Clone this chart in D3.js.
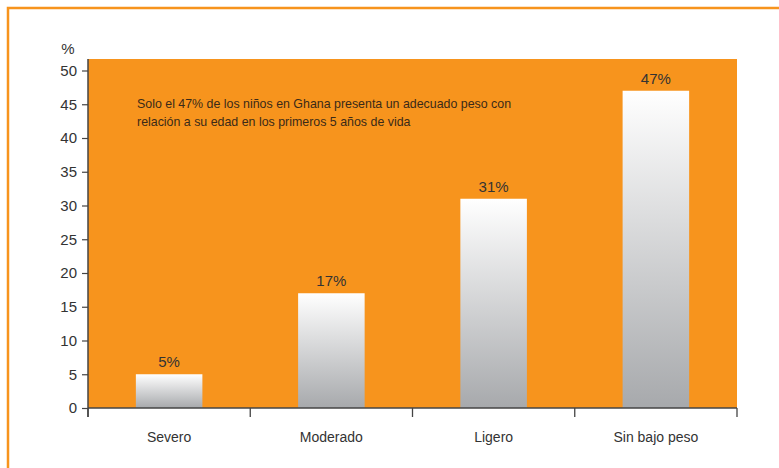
<!DOCTYPE html>
<html>
<head>
<meta charset="utf-8">
<script src="https://cdn.jsdelivr.net/npm/d3@7"></script>
<style>
  html, body { margin: 0; padding: 0; background: #fff; }
  svg { display: block; }
  text { font-family: "Liberation Sans", Arial, sans-serif; }
</style>
</head>
<body>
<svg id="chart" width="779" height="468"></svg>
<script>
// Peso para la edad en menores de 5 años (Ghana)
const categories = ["Severo", "Moderado", "Ligero", "Sin bajo peso"];
const values = [5, 17, 31, 47];
const yTicks = [0, 5, 10, 15, 20, 25, 30, 35, 40, 45, 50];
const note = [
  "Solo el 47% de los niños en Ghana presenta un adecuado peso con",
  "relación a su edad en los primeros 5 años de vida"
];

const svg = d3.select("#chart");
const W = 779, H = 468;
const m = { left: 88, right: 42, top: 59, bottom: 60 };
const plotTop = 59, plotBottom = 408;

const orange = "#F7941D";
const ink = "#333333";
const axisInk = "#444444";

// Outer frame, open to the right and bottom
svg.append("rect")
  .attr("x", 8).attr("y", 8)
  .attr("width", W + 20).attr("height", H + 20)
  .attr("fill", "none")
  .attr("stroke", orange)
  .attr("stroke-width", 2.5);

const x = d3.scaleBand()
  .domain(categories)
  .range([m.left, W - m.right])
  .paddingInner(0.59)
  .paddingOuter(0.295);

const y = d3.scaleLinear()
  .domain([0, 50])
  .range([plotBottom, 70.5]);

// Plot background
svg.append("rect")
  .attr("x", m.left).attr("y", plotTop)
  .attr("width", (W - m.right) - m.left)
  .attr("height", plotBottom - plotTop)
  .attr("fill", orange);

// Bar gradient
const defs = svg.append("defs");
const grad = defs.append("linearGradient")
  .attr("id", "barGrad")
  .attr("x1", 0).attr("y1", 0).attr("x2", 0).attr("y2", 1);
grad.append("stop").attr("offset", "0%").attr("stop-color", "#ffffff");
grad.append("stop").attr("offset", "100%").attr("stop-color", "#a7a9ac");

svg.append("g")
  .selectAll("rect")
  .data(categories)
  .join("rect")
  .attr("x", d => x(d))
  .attr("y", (d, i) => y(values[i]))
  .attr("width", x.bandwidth())
  .attr("height", (d, i) => y(0) - y(values[i]))
  .attr("fill", "url(#barGrad)");

// Value labels
svg.append("g")
  .selectAll("text")
  .data(categories)
  .join("text")
  .attr("x", d => x(d) + x.bandwidth() / 2)
  .attr("y", (d, i) => y(values[i]) - 7)
  .attr("text-anchor", "middle")
  .attr("font-size", 15)
  .attr("fill", ink)
  .text((d, i) => values[i] + "%");

// Annotation
svg.append("text")
  .attr("x", 137).attr("y", 108)
  .attr("font-size", 12.4)
  .attr("fill", "#3a2a18")
  .selectAll("tspan")
  .data(note)
  .join("tspan")
  .attr("x", 137)
  .attr("dy", (d, i) => i === 0 ? 0 : 18)
  .text(d => d);

// Y axis
const yAxis = svg.append("g")
  .attr("transform", `translate(${m.left},0)`)
  .call(d3.axisLeft(y).tickValues(yTicks).tickSize(6).tickPadding(5));
yAxis.select(".domain").remove();
yAxis.selectAll(".tick line").attr("stroke", axisInk).attr("stroke-width", 1.2);
yAxis.selectAll(".tick text")
  .attr("font-size", 15)
  .attr("fill", ink)
  .attr("font-family", "Liberation Sans, Arial, sans-serif");

svg.append("line")
  .attr("x1", m.left).attr("x2", m.left)
  .attr("y1", plotTop).attr("y2", plotBottom + 9)
  .attr("stroke", axisInk).attr("stroke-width", 1.5);

svg.append("text")
  .attr("x", 68).attr("y", 54)
  .attr("text-anchor", "middle")
  .attr("font-size", 15)
  .attr("fill", ink)
  .text("%");

// X axis: baseline, boundary ticks and category labels
svg.append("line")
  .attr("x1", m.left).attr("x2", W - m.right)
  .attr("y1", plotBottom).attr("y2", plotBottom)
  .attr("stroke", axisInk).attr("stroke-width", 1.5);

const step = x.step();
const bounds = categories.map(d => x(d) - (step - x.bandwidth()) / 2)
  .concat([x(categories[categories.length - 1]) + x.bandwidth() + (step - x.bandwidth()) / 2]);

svg.append("g")
  .selectAll("line")
  .data(bounds)
  .join("line")
  .attr("x1", d => d).attr("x2", d => d)
  .attr("y1", plotBottom).attr("y2", plotBottom + 9)
  .attr("stroke", axisInk).attr("stroke-width", 1.3);

svg.append("g")
  .selectAll("text")
  .data(categories)
  .join("text")
  .attr("x", d => x(d) + x.bandwidth() / 2)
  .attr("y", 442)
  .attr("text-anchor", "middle")
  .attr("font-size", 14)
  .attr("fill", ink)
  .text(d => d);
</script>
</body>
</html>
